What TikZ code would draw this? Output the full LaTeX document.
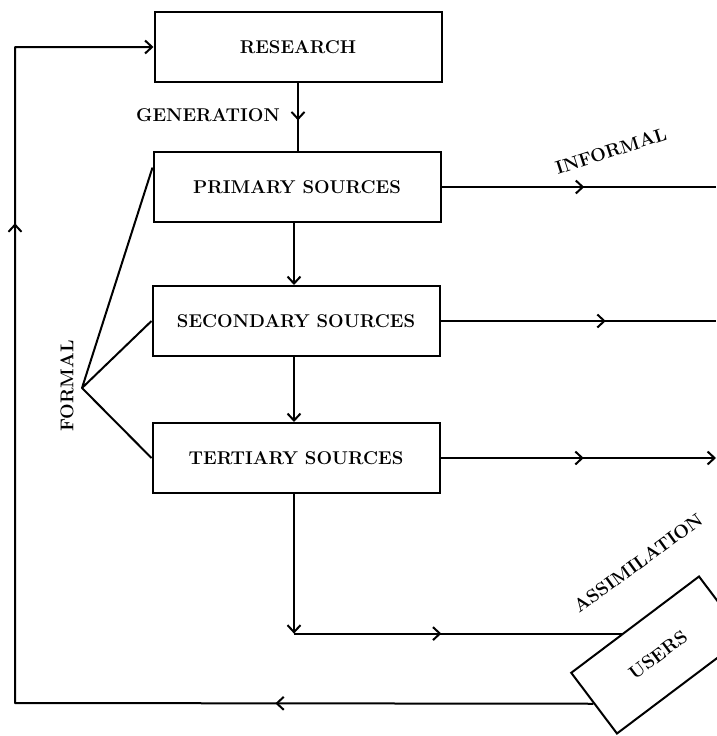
\documentclass[tikz,border=0pt]{standalone}
\usepackage{fontspec}
\usetikzlibrary{arrows.meta,decorations.markings,calc}
\newcommand\lblfont{\fontsize{18.5}{22}\selectfont\bfseries\addfontfeatures{FakeBold=3}}
\tikzset{
  box/.style={draw, line width=2pt, minimum width=287pt, minimum height=70pt, inner sep=0pt, font=\lblfont},
  lbl/.style={font=\lblfont, inner sep=0pt},
  ln/.style={line width=2pt, line join=round},
  midarrow/.style={decoration={markings, mark=at position #1 with {\arrow{>}}}, postaction={decorate}},
}
\begin{document}
\begin{tikzpicture}[x=1pt,y=-1pt,>={Straight Barb[length=7pt,width=13pt]}]
\useasboundingbox (0,0) rectangle (717,736);
\clip (0,0) rectangle (717,736);
% boxes
\node[box] (r) at (298,47) {RESEARCH};
\node[box] (p) at (297,187) {PRIMARY SOURCES};
\node[box] (s) at (296,321) {SECONDARY SOURCES};
\node[box] (t) at (296,458) {TERTIARY SOURCES};
\node[draw, line width=2pt, rotate=37, minimum width=160pt, minimum height=76pt, inner sep=0pt, font=\lblfont] (u) at (658,655) {USERS};
% labels
\node[lbl] (gen) at (208,115) {GENERATION};
\node[lbl, rotate=90] (formal) at (67,386) {FORMAL};
\node[lbl, rotate=18] (informal) at (611,151) {INFORMAL};
\node[lbl, rotate=36] (assimlbl) at (638,563) {ASSIMILATION};
% coordinates
\coordinate (apex) at (82,388);
\coordinate (edge) at (716,0);
\coordinate (assim) at ($(u.north west)!0.40!(u.north east)$);
\coordinate (dc) at ([xshift=-2pt]t.south |- assim);
\coordinate (lc) at (15,703);
% vertical flow
\draw[ln, midarrow=0.55] (r.south) -- (r.south |- p.north);
\draw[ln, ->] ([xshift=-3pt]p.south) -- ([xshift=-3pt]p.south |- s.north);
\draw[ln, ->] ([xshift=-2pt]s.south) -- ([xshift=-2pt]s.south |- t.north);
\draw[ln, ->] ([xshift=-2pt]t.south) -- (dc);
\draw[ln, midarrow=0.45] (dc) -- (assim);
% informal
\draw[ln, midarrow=0.52] (p.east) -- (p.east -| edge);
\draw[ln, midarrow=0.6] (s.east) -- (s.east -| edge);
\draw[ln, midarrow=0.52, ->] (t.east) -- (t.east -| edge);
% formal
\draw[ln] ($(p.north west)!0.23!(p.south west)$) -- (apex) -- (s.west);
\draw[ln] (apex) -- (t.west);
% feedback
\draw[ln, ->, decoration={markings, mark=at position 318pt with {\arrow{>}}, mark=at position 1058pt with {\arrow{>}}}, postaction={decorate}]
  (u.west) -- (lc) -- (lc |- r.west) -- (r.west);
\end{tikzpicture}
\end{document}
